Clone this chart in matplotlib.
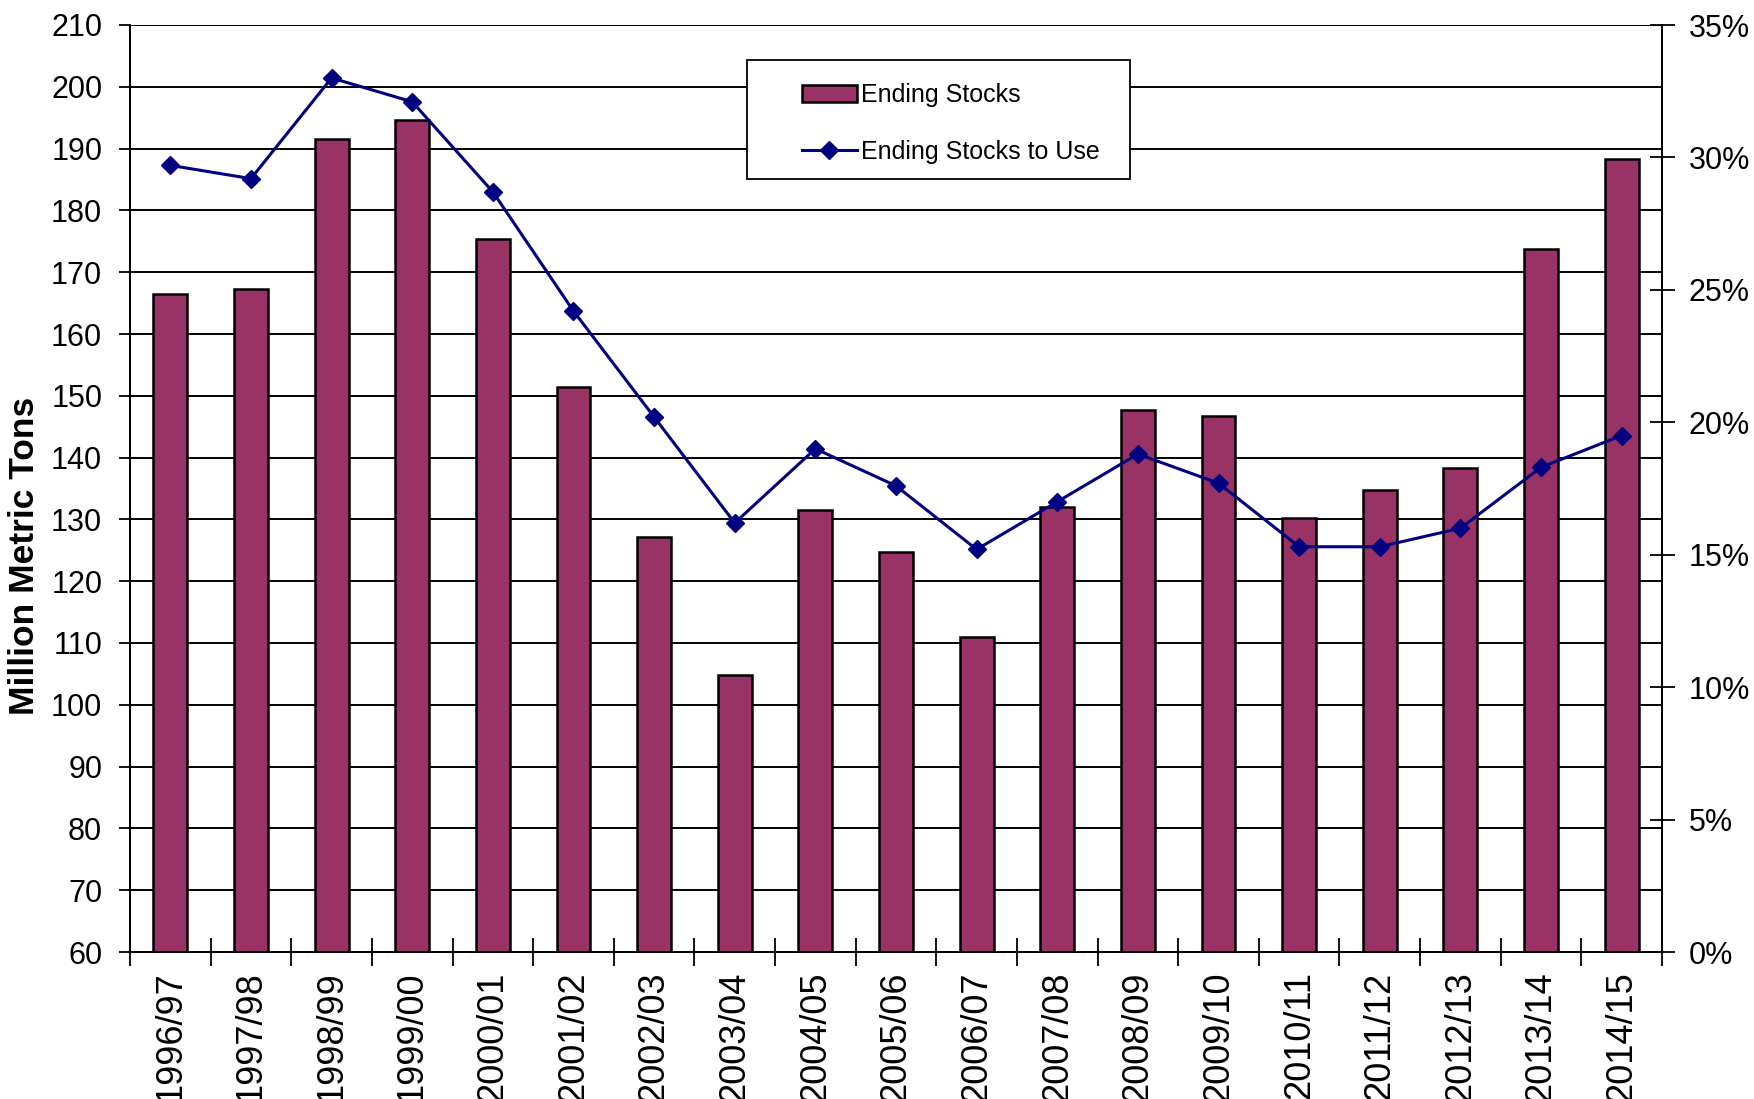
import matplotlib
matplotlib.use("Agg")
import matplotlib.pyplot as plt
from matplotlib.patches import Rectangle
from matplotlib.ticker import FuncFormatter, MultipleLocator

plt.rcParams["font.family"] = ["Liberation Sans", "DejaVu Sans"]

seasons = ["1996/97", "1997/98", "1998/99", "1999/00", "2000/01", "2001/02",
           "2002/03", "2003/04", "2004/05", "2005/06", "2006/07", "2007/08",
           "2008/09", "2009/10", "2010/11", "2011/12", "2012/13", "2013/14",
           "2014/15"]
ending_stocks = [166.4, 167.3, 191.5, 194.6, 175.4, 151.5, 127.1, 104.9, 131.6,
                 124.8, 111.0, 132.0, 147.7, 146.7, 130.2, 134.7, 138.3, 173.8,
                 188.3]
stocks_to_use = [29.7, 29.2, 33.0, 32.1, 28.7, 24.2, 20.2, 16.2, 19.0, 17.6,
                 15.2, 17.0, 18.8, 17.7, 15.3, 15.3, 16.0, 18.3, 19.5]

fig = plt.figure(figsize=(17.54, 10.99), dpi=100)
ax = fig.add_axes([130 / 1754, 1 - 952 / 1099, 1532 / 1754, 927 / 1099])
ax2 = ax.twinx()

x = range(len(seasons))
bars = ax.bar(x, [v - 60 for v in ending_stocks], bottom=60, width=0.42,
              color="#993366", edgecolor="black", linewidth=1.8, zorder=3,
              label="Ending Stocks")
line, = ax2.plot(x, stocks_to_use, color="#000080", lw=2.2, marker="D",
                 markersize=9, label="Ending Stocks to Use", zorder=4)

ax.set_xlim(-0.5, len(seasons) - 0.5)
ax.set_ylim(60, 210)
ax.yaxis.set_major_locator(MultipleLocator(10))
ax.grid(axis="y", color="black", lw=1.4, zorder=0)
ax.set_axisbelow(True)
ax.set_ylabel("Million Metric Tons", fontsize=25.5, fontweight="bold")
ax.yaxis.set_label_coords(-0.058, 0.427)

# ticks between categories, labels centred under bars
ax.set_xticks([i + 0.5 for i in range(-1, len(seasons))])
ax.set_xticklabels([])
ax.set_xticks(list(x), minor=True)
ax.set_xticklabels(seasons, minor=True, rotation=90, fontsize=26, va="top")
ax.tick_params(axis="x", which="major", direction="inout", length=20, width=1.3)
ax.tick_params(axis="x", which="minor", length=0, pad=14)
ax.tick_params(axis="y", direction="out", length=8, width=1.3, labelsize=22, pad=12)

ax2.set_ylim(0, 35)
ax2.yaxis.set_major_locator(MultipleLocator(5))
ax2.yaxis.set_major_formatter(FuncFormatter(lambda v, p: f"{v:.0f}%"))
ax2.tick_params(axis="y", direction="inout", length=18, width=1.3, labelsize=22, pad=10)

for a in (ax, ax2):
    a.spines["top"].set_visible(False)
    for s in ("left", "right", "bottom"):
        a.spines[s].set_linewidth(1.4)

# legend frame drawn separately to get the wide left margin
ax.add_patch(Rectangle((0.4027, 0.8339), 0.25, 0.1283, transform=ax.transAxes,
                       facecolor="white", edgecolor="black", lw=1.3, zorder=5))
leg = ax.legend([bars, line], ["Ending Stocks", "Ending Stocks to Use"],
                loc="upper left", bbox_to_anchor=(0.4386, 0.9374), fontsize=18,
                frameon=False, borderpad=0, labelspacing=1.3, handlelength=2.2,
                handletextpad=0.18, borderaxespad=0)
leg.set_zorder(10)

fig.savefig("out.png", dpi=100)
